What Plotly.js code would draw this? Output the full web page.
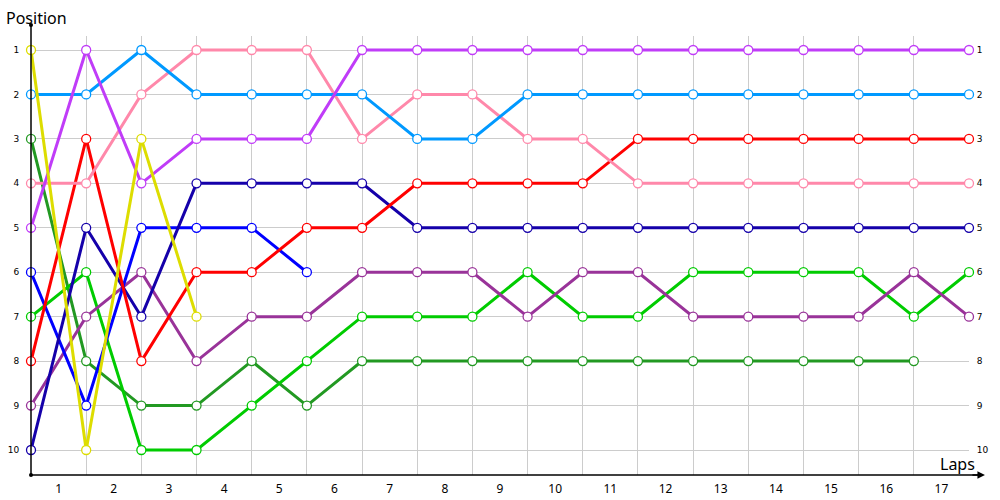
<!DOCTYPE html>
<html>
<head>
<meta charset="utf-8">
<script src="https://cdn.plot.ly/plotly-3.0.1.min.js"></script>
<style>html,body{margin:0;padding:0;background:#fff;}#chart{width:1000px;height:500px;}</style>
</head>
<body>
<div id="chart"></div>
<script>
// Lap boundaries (0 = start, 1..17 = end of lap)
var lapPoints = [0,1,2,3,4,5,6,7,8,9,10,11,12,13,14,15,16,17];
var lapLabels = ["1","2","3","4","5","6","7","8","9","10","11","12","13","14","15","16","17"];
var lapLabelPos = [0.5,1.5,2.5,3.5,4.5,5.5,6.5,7.5,8.5,9.5,10.5,11.5,12.5,13.5,14.5,15.5,16.5];
var positionTicks = [1,2,3,4,5,6,7,8,9,10];

// Positions per driver
var yellowPos     = [1,10,3,7];
var violetPos     = [5,1,4,3,3,3,1,1,1,1,1,1,1,1,1,1,1,1];
var lightBluePos  = [2,2,1,2,2,2,2,3,3,2,2,2,2,2,2,2,2,2];
var pinkPos       = [4,4,2,1,1,1,3,2,2,3,3,4,4,4,4,4,4,4];
var redPos        = [8,3,8,6,6,5,5,4,4,4,4,3,3,3,3,3,3,3];
var navyPos       = [10,5,7,4,4,4,4,5,5,5,5,5,5,5,5,5,5,5];
var bluePos       = [6,9,5,5,5,6];
var darkGreenPos  = [3,8,9,9,8,9,8,8,8,8,8,8,8,8,8,8,8];
var greenPos      = [7,6,10,10,9,8,7,7,7,6,7,7,6,6,6,6,7,6];
var plumPos       = [9,7,6,8,7,7,6,6,6,7,6,6,7,7,7,7,6,7];

var seriesList = [
  {pos: darkGreenPos, color: '#229922'},
  {pos: greenPos,     color: '#00cc00'},
  {pos: plumPos,      color: '#993399'},
  {pos: bluePos,      color: '#0000ff'},
  {pos: navyPos,      color: '#1500aa'},
  {pos: redPos,       color: '#ff0000'},
  {pos: pinkPos,      color: '#ff88aa'},
  {pos: lightBluePos, color: '#0099ff'},
  {pos: violetPos,    color: '#c03cf8'},
  {pos: yellowPos,    color: '#dddd00'}
];

var traces = seriesList.map(function(s){
  return {
    type: 'scatter', mode: 'lines+markers',
    x: lapPoints.slice(0, s.pos.length), y: s.pos,
    line: {color: s.color, width: 3},
    marker: {symbol: 'circle', size: 9, color: '#ffffff', line: {color: s.color, width: 1.3}},
    cliponaxis: false, showlegend: false, hoverinfo: 'skip'
  };
});
// helper trace for right-side axis
traces.push({type:'scatter', x: [], y: [], xaxis: 'x', yaxis: 'y2', showlegend: false, hoverinfo:'skip'});

var fontFam = 'Noto Sans, DejaVu Sans, sans-serif';
var yr = [10.5625, 0.685];

var layout = {
  width: 1000, height: 500,
  margin: {l: 31, r: 31, t: 36, b: 25},
  paper_bgcolor: '#ffffff', plot_bgcolor: '#ffffff',
  xaxis: {
    range: [0, 17], tickvals: lapLabelPos, ticktext: lapLabels,
    showgrid: false, zeroline: false, showline: false,
    ticks: 'outside', ticklen: 3, tickcolor: 'rgba(0,0,0,0)',
    tickfont: {family: fontFam, size: 12, color: '#000'},
    minor: {tick0: 0, dtick: 1, showgrid: true, gridcolor: '#cccccc', gridwidth: 1, ticks: ''}
  },
  yaxis: {
    range: yr, tickvals: positionTicks,
    showgrid: true, gridcolor: '#cccccc', gridwidth: 1, zeroline: false, showline: false,
    ticks: 'outside', ticklen: 9, tickcolor: 'rgba(0,0,0,0)',
    tickfont: {family: 'DejaVu Sans, sans-serif', size: 9, color: '#000'}
  },
  yaxis2: {
    range: yr, tickvals: positionTicks, overlaying: 'y', side: 'right',
    showgrid: false, zeroline: false, showline: false,
    ticks: 'outside', ticklen: 5, tickcolor: 'rgba(0,0,0,0)',
    tickfont: {family: 'DejaVu Sans, sans-serif', size: 9, color: '#000'}
  },
  shapes: [
    {type: 'line', xref: 'paper', yref: 'paper', x0: 0, x1: 0, y0: 0, y1: 1.025, line: {color: '#000', width: 1.5}},
    {type: 'line', xref: 'paper', yref: 'paper', x0: 0, x1: 1.015, y0: 0, y1: 0, line: {color: '#000', width: 1.5}},
    {type: 'circle', xref: 'paper', yref: 'paper', xsizemode: 'pixel', ysizemode: 'pixel',
     xanchor: 0, yanchor: 1.025, x0: -2, x1: 2, y0: -2, y1: 2, fillcolor: '#000', line: {width: 0}},
    {type: 'circle', xref: 'paper', yref: 'paper', xsizemode: 'pixel', ysizemode: 'pixel',
     xanchor: 0, yanchor: 0, x0: -2, x1: 2, y0: -2, y1: 2, fillcolor: '#000', line: {width: 0}}
  ],
  annotations: [
    {xref: 'paper', yref: 'paper', x: 1.017, y: 0, ax: -14, ay: 0, axref: 'pixel', ayref: 'pixel',
     showarrow: true, arrowhead: 2, arrowsize: 1, arrowwidth: 1.5, arrowcolor: '#000', text: ''},
    {xref: 'paper', yref: 'paper', x: 1.008, y: -0.004, xanchor: 'right', yanchor: 'bottom', showarrow: false,
     text: 'Laps', font: {family: fontFam, size: 16, color: '#000'}},
    {xref: 'paper', yref: 'paper', x: -0.029, y: 1.012, xanchor: 'left', yanchor: 'bottom', showarrow: false,
     text: 'Position', font: {family: fontFam, size: 16, color: '#000'}}
  ]
};

Plotly.newPlot('chart', traces, layout, {displayModeBar: false, staticPlot: true});
</script>
</body>
</html>
